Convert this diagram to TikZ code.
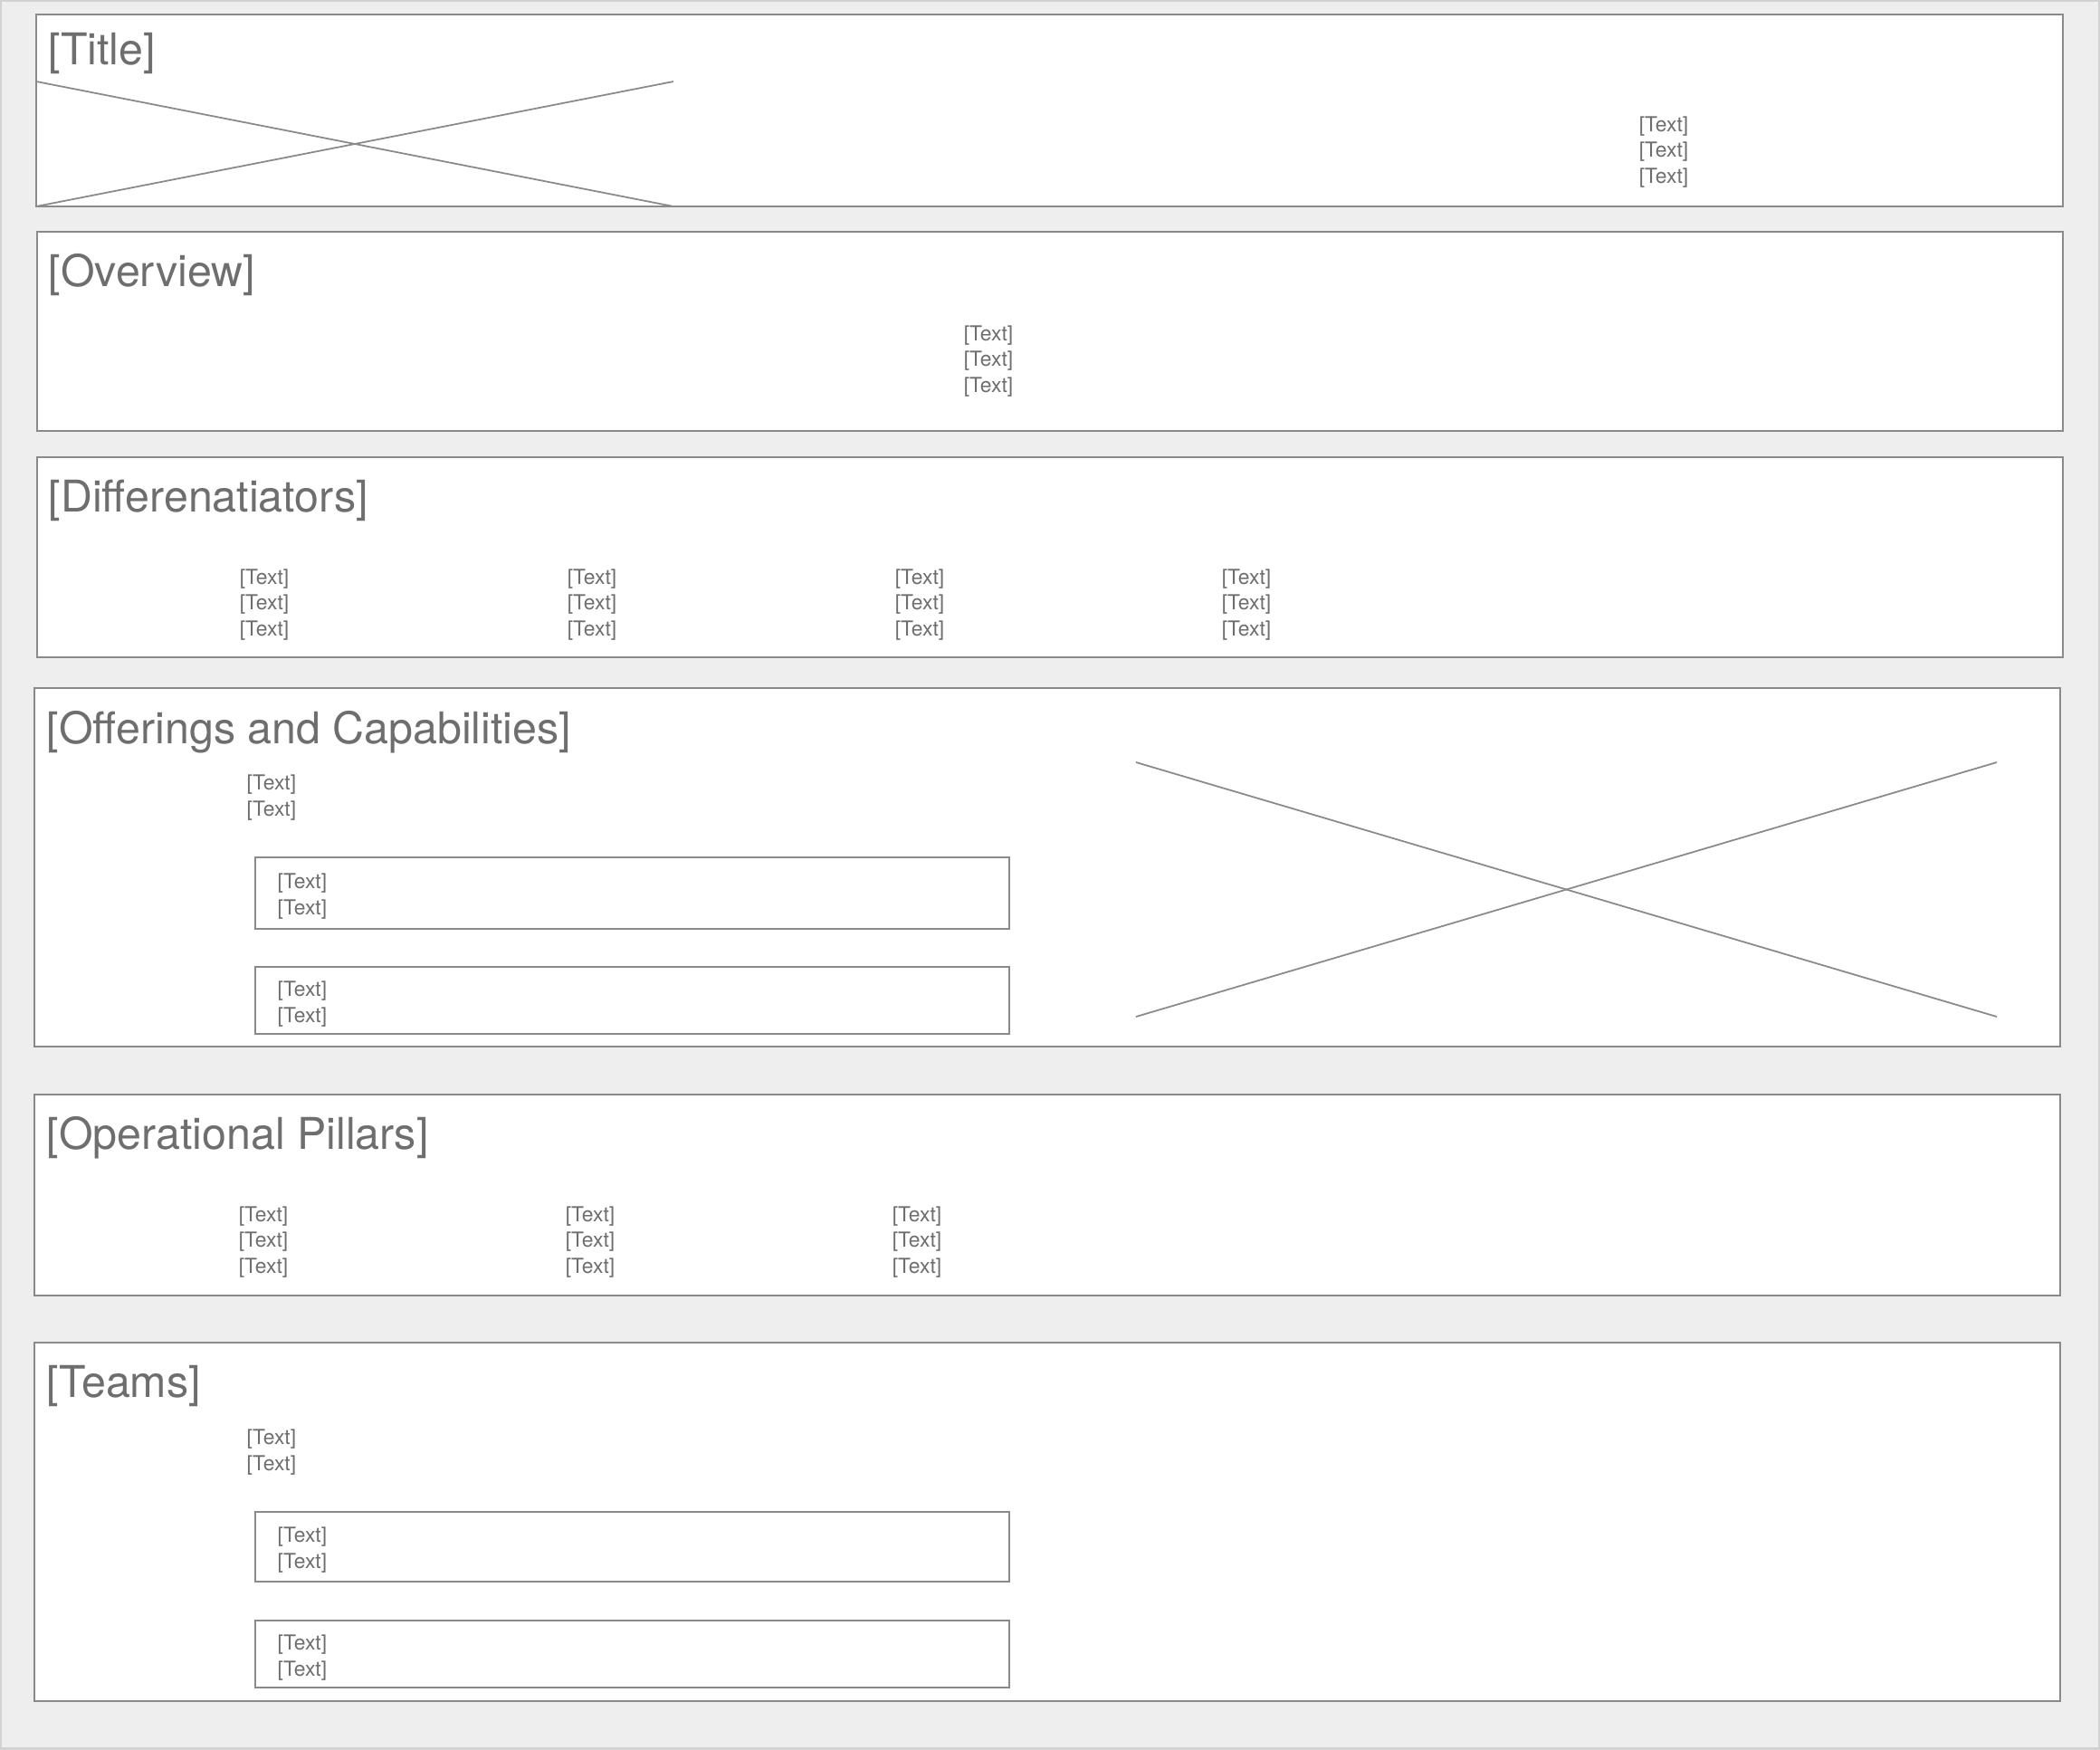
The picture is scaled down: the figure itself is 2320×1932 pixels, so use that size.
\documentclass[tikz,border=0pt]{standalone}
\usepackage{fontspec}
\setmainfont{TeX Gyre Heros}
\definecolor{wireline}{HTML}{8A8A8A}
\definecolor{wiretext}{HTML}{6E6E6E}
\definecolor{wirebg}{HTML}{EEEEEE}
\definecolor{wireedge}{HTML}{D2D2D2}
\begin{document}
\begin{tikzpicture}[x=0.01cm, y=0.01cm]
\tikzstyle{every node}+=[inner sep=0pt, text=wiretext]
\tikzstyle{heading}=[anchor=west, font=\fontsize{13.75}{16}\selectfont]
\tikzstyle{lines}=[align=center, font=\fontsize{6.5}{8.15}\selectfont]
\tikzstyle{leftlines}=[anchor=west, align=left, font=\fontsize{6.5}{8.15}\selectfont]
\tikzstyle{panel}=[draw=wireline, fill=white, line width=0.5pt]
\tikzstyle{cross}=[wireline, line width=0.5pt]
\useasboundingbox (0,0) rectangle (2320,-1932);
\fill [wirebg] (0,0) rectangle (2320,-1932);
\draw [wireedge, line width=1pt] (0,0) rectangle (2320,-1932);
% title
\draw [panel] (40,-16) rectangle (2279,-228);
\draw [cross] (40,-90) -- (744,-228);
\draw [cross] (40,-228) -- (744,-90);
\node (title) [heading] at (53,-59) {[Title]};
\node (titletext) [lines] at (1838,-168) {[Text]\\{[Text]}\\{[Text]}};
% overview
\draw [panel] (41,-256) rectangle (2279,-476);
\node (overview) [heading] at (53,-304) {[Overview]};
\node (overviewtext) [lines] at (1092,-399) {[Text]\\{[Text]}\\{[Text]}};
% differenatiators
\draw [panel] (41,-505) rectangle (2279,-726);
\node (diff) [heading] at (53,-553) {[Differenatiators]};
\foreach \x [count=\i] in {292,654,1016,1377}
  \node (diff\i) [lines] at (\x,-668) {[Text]\\{[Text]}\\{[Text]}};
% offerings and capabilities
\draw [panel] (38,-760) rectangle (2276,-1156);
\node (offer) [heading] at (51,-809) {[Offerings and Capabilities]};
\node (offertext) [leftlines] at (272,-881) {[Text]\\{[Text]}};
\draw [panel] (282,-947) rectangle (1115,-1026);
\node (offera) [leftlines] at (306,-990) {[Text]\\{[Text]}};
\draw [panel] (282,-1068) rectangle (1115,-1142);
\node (offerb) [leftlines] at (306,-1109) {[Text]\\{[Text]}};
\draw [cross] (1255,-842) -- (2206,-1123);
\draw [cross] (1255,-1123) -- (2206,-842);
% operational pillars
\draw [panel] (38,-1209) rectangle (2276,-1431);
\node (pillars) [heading] at (51,-1257) {[Operational Pillars]};
\foreach \x [count=\i] in {291,652,1013}
  \node (pillar\i) [lines] at (\x,-1372) {[Text]\\{[Text]}\\{[Text]}};
% teams
\draw [panel] (38,-1483) rectangle (2276,-1879);
\node (teams) [heading] at (51,-1531) {[Teams]};
\node (teamstext) [leftlines] at (272,-1604) {[Text]\\{[Text]}};
\draw [panel] (282,-1670) rectangle (1115,-1747);
\node (teama) [leftlines] at (306,-1712) {[Text]\\{[Text]}};
\draw [panel] (282,-1790) rectangle (1115,-1864);
\node (teamb) [leftlines] at (306,-1831) {[Text]\\{[Text]}};
\end{tikzpicture}
\end{document}
